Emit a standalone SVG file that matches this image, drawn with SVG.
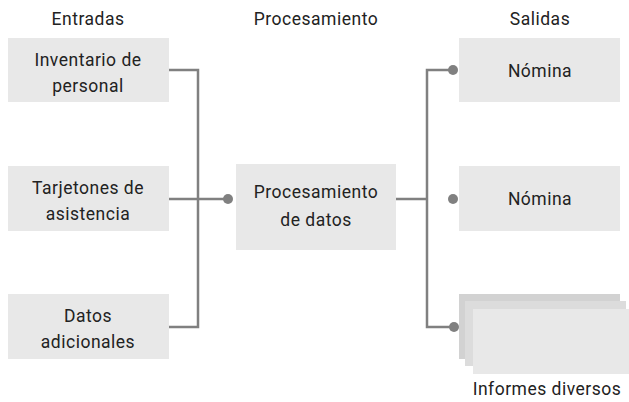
<svg xmlns="http://www.w3.org/2000/svg" width="629" height="402" viewBox="0 0 629 402">
<style>
text{font-family:Roboto,"Liberation Sans",sans-serif;font-size:17.5px;font-weight:400;letter-spacing:0.5px;fill:#222;text-anchor:middle}
.box{fill:#e8e8e8}
.ln{fill:none;stroke:#808080;stroke-width:2.5}
.dot{fill:#808080}
</style>
<rect width="629" height="402" fill="#fff"/>
<g id="headers">
<text x="88" y="25">Entradas</text>
<text x="316" y="25">Procesamiento</text>
<text x="540" y="25">Salidas</text>
</g>
<g id="connectors">
<path class="ln" d="M167 70H198V327H167M169 199H228"/>
<circle class="dot" cx="228" cy="199" r="5"/>
<path class="ln" d="M396 199H427M453 70H427V327H454"/>
<circle class="dot" cx="453" cy="70" r="5"/>
<circle class="dot" cx="453" cy="199" r="5"/>
<circle class="dot" cx="454" cy="327" r="5"/>
</g>
<g id="in1"><rect class="box" x="8" y="38" width="161" height="64"/><text x="88" y="66">Inventario de</text><text x="88" y="92">personal</text></g>
<g id="in2"><rect class="box" x="8" y="166" width="161" height="65"/><text x="88" y="194">Tarjetones de</text><text x="88" y="220">asistencia</text></g>
<g id="in3"><rect class="box" x="8" y="294" width="161" height="65"/><text x="88" y="322">Datos</text><text x="88" y="348">adicionales</text></g>
<g id="proc"><rect class="box" x="236" y="164" width="160" height="86"/><text x="316" y="198">Procesamiento</text><text x="316" y="226">de datos</text></g>
<g id="out1"><rect class="box" x="459" y="38" width="161" height="64"/><text x="540" y="77">Nómina</text></g>
<g id="out2"><rect class="box" x="459" y="166" width="161" height="65"/><text x="540" y="205">Nómina</text></g>
<g id="out3">
<rect x="459" y="294" width="161" height="65" fill="#d2d2d2"/>
<rect x="465" y="301" width="161" height="65" fill="#dcdcdc"/>
<rect x="473" y="309" width="156" height="65" fill="#e8e8e8"/>
<text x="547" y="395">Informes diversos</text>
</g>
</svg>
